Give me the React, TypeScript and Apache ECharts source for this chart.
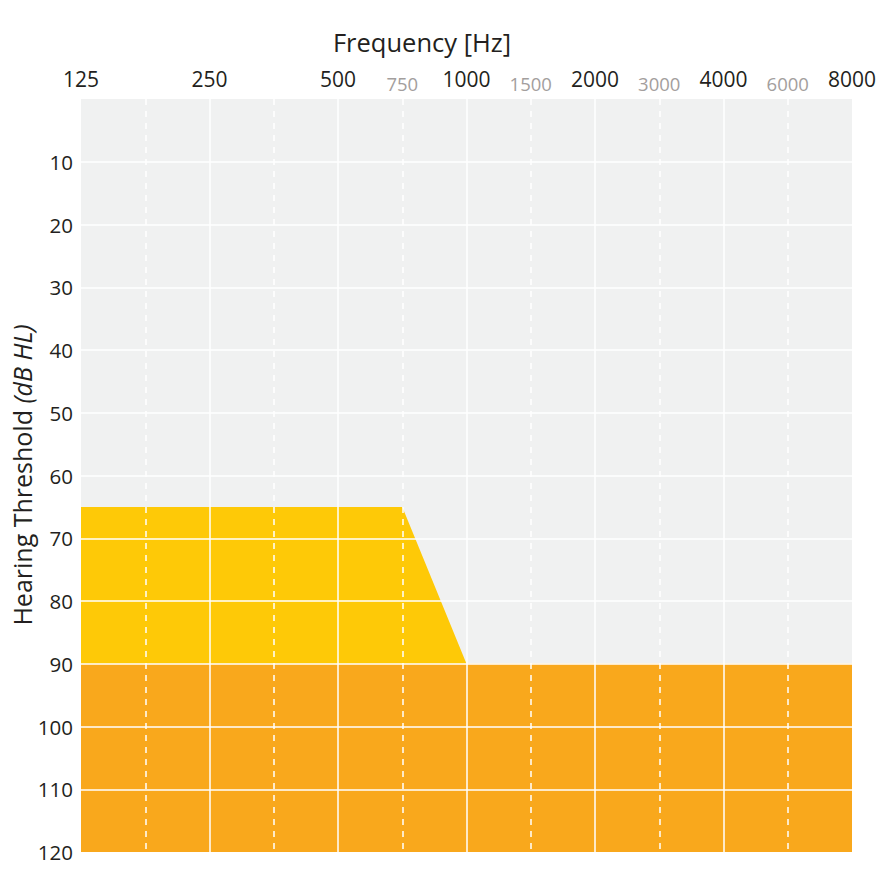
import React, { useEffect, useRef } from "react";
import * as echarts from "echarts";

// x positions are half-octave steps: 125,177,250,354,500,750,1000,1500,2000,3000,4000,6000,8000
const freqLabels = ["125", "", "250", "", "500", "750", "1000", "1500", "2000", "3000", "4000", "6000", "8000"];
const majorFlags = [true, false, true, false, true, false, true, false, true, false, true, false, true];
const dbTicks = [0, 10, 20, 30, 40, 50, 60, 70, 80, 90, 100, 110, 120];

// moderate/severe loss boundary (yellow) and profound loss (orange)
const yellowX = [0, 5, 6, 12];
const yellowY = [65, 65, 90, 90];
const orangeX = [0, 12];
const orangeY = [90, 90];

const FONT = "Open Sans";

export default function App() {
  const ref = useRef<HTMLDivElement>(null);
  useEffect(() => {
    const chart = echarts.init(ref.current!, null, { renderer: "svg" });
    const vLines = freqLabels.map((_, i) => ({
      xAxis: i,
      lineStyle: { color: "#ffffff", width: 1.5, type: majorFlags[i] ? "solid" : [6, 6], opacity: i === 0 || i === 12 ? 0 : 1 },
    }));
    const hLines = dbTicks.filter((v) => v > 0 && v < 120).map((v) => ({
      yAxis: v,
      lineStyle: { color: "#ffffff", width: 1.5, type: "solid" },
    }));
    chart.setOption({
      animation: false,
      grid: {
        left: 81, top: 99, right: 32, bottom: 32,
        containLabel: false, outerBoundsMode: "none",
        show: true, backgroundColor: "#f0f1f1", borderWidth: 0,
      },
      graphic: [
        {
          type: "text", x: 422, y: 42,
          style: {
            text: "Frequency [Hz]", fontFamily: FONT, fontSize: 25.5, fill: "#231f20",
            textAlign: "center", textVerticalAlign: "middle",
          },
        },
        {
          type: "text", x: 22, y: 475, rotation: Math.PI / 2,
          style: {
            text: "{a|Hearing Threshold }{b|(dB HL)}",
            textAlign: "center", textVerticalAlign: "middle",
            rich: {
              a: { fontFamily: FONT, fontSize: 25, fill: "#231f20", lineHeight: 28 },
              b: { fontFamily: FONT, fontSize: 25, fill: "#231f20", fontStyle: "italic", lineHeight: 28 },
            },
          },
        },
      ],
      xAxis: {
        type: "value", position: "top", min: 0, max: 12, interval: 1,
        axisLine: { show: false }, axisTick: { show: false }, splitLine: { show: false },
        axisLabel: {
          margin: 6,
          formatter: (v: number) => {
            const i = Math.round(v);
            const t = freqLabels[i];
            if (!t) return "";
            return majorFlags[i] ? `{a|${t}}` : `{b|${t}}`;
          },
          rich: {
            a: { fontFamily: FONT, fontSize: 21, color: "#231f20", padding: [0, 0, 4, 0] },
            b: { fontFamily: FONT, fontSize: 18.5, color: "#a39e9d" },
          },
        },
      },
      yAxis: {
        type: "value", inverse: true, min: 0, max: 120, interval: 10,
        axisLine: { show: false }, axisTick: { show: false }, splitLine: { show: false },
        axisLabel: {
          margin: 8, fontFamily: FONT, fontSize: 20.5, color: "#231f20",
          formatter: (v: number) => (v === 0 ? "" : String(v)),
        },
      },
      series: [
        {
          type: "line", z: 2, symbol: "none", lineStyle: { width: 0 },
          areaStyle: { color: "#fec907", opacity: 1, origin: "end" },
          data: yellowX.map((x, i) => [x, yellowY[i]]),
        },
        {
          type: "line", z: 3, symbol: "none", lineStyle: { width: 0 },
          areaStyle: { color: "#f9a81c", opacity: 1, origin: "end" },
          data: orangeX.map((x, i) => [x, orangeY[i]]),
        },
        {
          type: "line", z: 5, data: [], silent: true,
          markLine: {
            silent: true, symbol: "none", label: { show: false }, animation: false,
            data: [...vLines, ...hLines],
          },
        },
      ],
    });
    return () => chart.dispose();
  }, []);
  return <div ref={ref} style={{ position: "fixed", left: 0, top: 0, width: 884, height: 884, background: "#fff" }} />;
}
